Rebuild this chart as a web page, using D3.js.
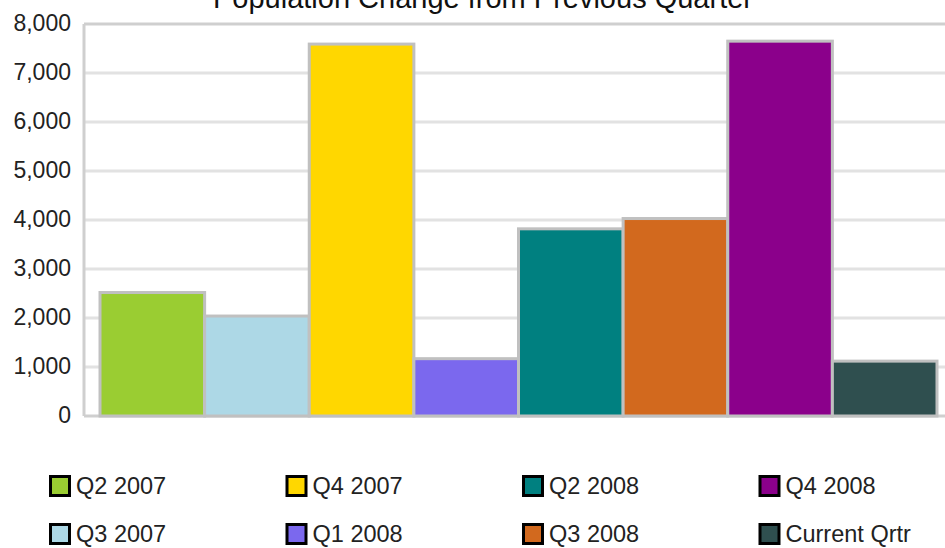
<!DOCTYPE html>
<html>
<head>
<meta charset="utf-8">
<script src="https://cdn.jsdelivr.net/npm/d3@7"></script>
<style>
  body { margin: 0; background: #fff; }
  svg { display: block; font-family: "Liberation Sans", Arial, sans-serif; }
</style>
</head>
<body>
<div id="chart"></div>
<script>
// chart data
const quarters = ["Q2 2007", "Q3 2007", "Q4 2007", "Q1 2008", "Q2 2008", "Q3 2008", "Q4 2008", "Current Qrtr"];
const changes = [2520, 2040, 7590, 1170, 3820, 4030, 7650, 1120];
const barColors = ["#9acd32", "#add8e6", "#ffd700", "#7b68ee", "#008080", "#d2691e", "#8b008b", "#2f4f4f"];
const yTicks = [0, 1000, 2000, 3000, 4000, 5000, 6000, 7000, 8000];
const title = "Population Change from Previous Quarter";

const width = 945;
const height = 548;
const margin = { top: 24, right: -8, bottom: 132, left: 84 };

const svg = d3.select("#chart")
    .append("svg")
    .attr("width", width)
    .attr("height", height);

const xScale = d3.scaleBand()
    .domain(quarters)
    .range([margin.left, width - margin.right])
    .paddingInner(0)
    .paddingOuter(0.153);

const yScale = d3.scaleLinear()
    .domain([0, 8000])
    .range([height - margin.bottom, margin.top]);

// gridlines
svg.append("g")
    .selectAll("line")
    .data(yTicks.filter(d => d > 0))
    .enter()
    .append("line")
    .attr("x1", margin.left)
    .attr("x2", width - margin.right)
    .attr("y1", d => yScale(d))
    .attr("y2", d => yScale(d))
    .attr("stroke", d => d === 8000 ? "#cfcfcf" : "#e2e2e2")
    .attr("stroke-width", 3);

// left axis line + baseline
svg.append("line")
    .attr("x1", margin.left).attr("x2", margin.left)
    .attr("y1", yScale(8000)).attr("y2", yScale(0))
    .attr("stroke", "#cfcfcf").attr("stroke-width", 3);

svg.append("line")
    .attr("x1", margin.left).attr("x2", width - margin.right)
    .attr("y1", yScale(0)).attr("y2", yScale(0))
    .attr("stroke", "#cfcfcf").attr("stroke-width", 3);

// y axis labels
const yAxis = svg.append("g")
    .attr("transform", `translate(${margin.left - 13},0)`)
    .call(d3.axisLeft(yScale).tickValues(yTicks).tickSize(0).tickFormat(d3.format(",")));
yAxis.select(".domain").remove();
yAxis.selectAll("text")
    .attr("x", 0)
    .attr("dy", "0.3em")
    .attr("font-size", 23)
    .attr("font-family", "Liberation Sans, Arial, sans-serif")
    .attr("fill", "#222");

// bars
svg.append("g")
    .selectAll("rect")
    .data(quarters)
    .enter()
    .append("rect")
    .attr("x", d => xScale(d))
    .attr("y", (d, i) => yScale(changes[i]))
    .attr("width", xScale.bandwidth())
    .attr("height", (d, i) => yScale(0) - yScale(changes[i]))
    .attr("fill", (d, i) => barColors[i])
    .attr("stroke", "#c0c0c0")
    .attr("stroke-width", 3);

// title
svg.append("text")
    .attr("x", 483)
    .attr("y", 7.5)
    .attr("text-anchor", "middle")
    .attr("font-size", 29)
    .attr("fill", "#111")
    .text(title);

// legend, filled column by column
const legend = svg.append("g")
    .selectAll("g")
    .data(quarters)
    .enter()
    .append("g")
    .attr("transform", (d, i) => `translate(${49 + Math.floor(i / 2) * 236.5},${486 + (i % 2) * 48})`);

legend.append("rect")
    .attr("x", 1.5)
    .attr("y", -9.5)
    .attr("width", 19)
    .attr("height", 19)
    .attr("fill", (d, i) => barColors[i])
    .attr("stroke", "#000")
    .attr("stroke-width", 3);

legend.append("text")
    .attr("x", 27)
    .attr("y", 0)
    .attr("dy", "0.36em")
    .attr("font-size", 23.5)
    .attr("fill", "#222")
    .text(d => d);
</script>
</body>
</html>
